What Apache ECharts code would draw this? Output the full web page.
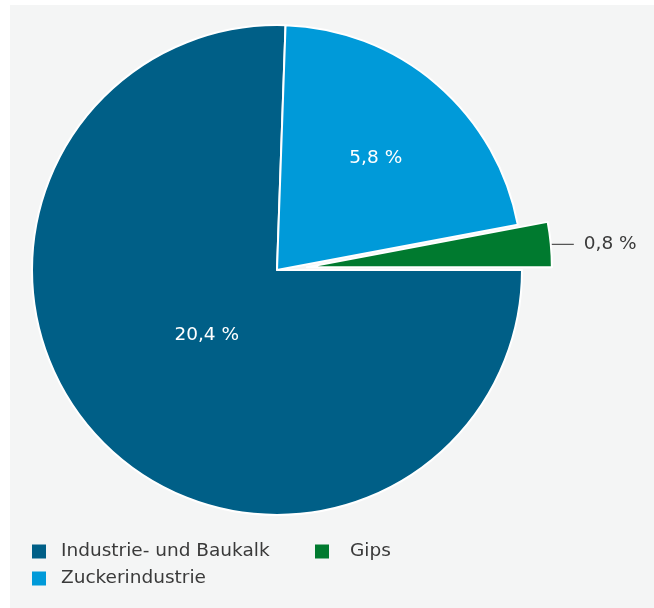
<!DOCTYPE html>
<html>
<head>
<meta charset="utf-8">
<script src="https://cdn.jsdelivr.net/npm/echarts@6/dist/echarts.min.js"></script>
<style>
  html, body { margin: 0; padding: 0; background: #ffffff; }
  #chart { width: 654px; height: 608px; }
</style>
</head>
<body>
<div id="chart"></div>
<script>
// Anteile nach Verwendungszweck
const categories = ['Industrie- und Baukalk', 'Zuckerindustrie', 'Gips'];
const values = [20.4, 5.8, 0.8];
const colors = ['#005f87', '#009ad9', '#007a2f'];

const FONT = '"DejaVu Sans", "Noto Sans", sans-serif';
const fmt = v => v.toFixed(1).replace('.', ',') + ' %';

const chart = echarts.init(document.getElementById('chart'));

// inner label nudges for the two large slices
const labelOffsets = [[20, -22], [17, -17]];

const pieData = categories.map((name, i) => {
  const item = { name, value: values[i], itemStyle: { color: colors[i] } };
  if (i < 2) {
    item.label = { position: 'inside', color: '#ffffff', offset: labelOffsets[i] };
    item.labelLine = { show: false };
  } else {
    item.selected = true;
    item.label = { position: 'outside', color: '#3a3a3a' };
  }
  return item;
});

const legendBase = {
  orient: 'horizontal',
  icon: 'rect',
  padding: 0,
  itemWidth: 14,
  itemHeight: 14,
  selectedMode: false,
  itemStyle: { borderWidth: 0 },
  textStyle: { fontFamily: FONT, fontSize: 18.5, color: '#3a3a3a', padding: [0, 0, 0, 10] }
};

chart.setOption({
  animation: false,
  graphic: [{
    type: 'rect',
    silent: true,
    z: -10,
    shape: { x: 10, y: 5, width: 644, height: 603 },
    style: { fill: '#f4f5f5' }
  }],
  legend: [
    Object.assign({}, legendBase, { left: 32, top: 542, data: [categories[0]] }),
    Object.assign({}, legendBase, { left: 315, top: 542, data: [categories[2]], textStyle: Object.assign({}, legendBase.textStyle, { padding: [0, 0, 0, 16] }) }),
    Object.assign({}, legendBase, { left: 32, top: 569, data: [categories[1]] })
  ],
  series: [{
    type: 'pie',
    center: [277, 270],
    radius: [0, 245],
    startAngle: 0,
    clockwise: true,
    selectedMode: 'single',
    selectedOffset: 30,
    avoidLabelOverlap: false,
    itemStyle: { borderColor: '#ffffff', borderWidth: 2 },
    label: {
      formatter: p => fmt(p.value),
      fontFamily: FONT,
      fontSize: 18.5,
      distanceToLabelLine: 10
    },
    labelLine: {
      show: true,
      length: 1,
      length2: 22,
      lineStyle: { color: '#555555', width: 1.2 }
    },
    emphasis: { disabled: true },
    select: { itemStyle: { borderColor: '#ffffff', borderWidth: 2 } },
    data: pieData
  }]
});
</script>
</body>
</html>
